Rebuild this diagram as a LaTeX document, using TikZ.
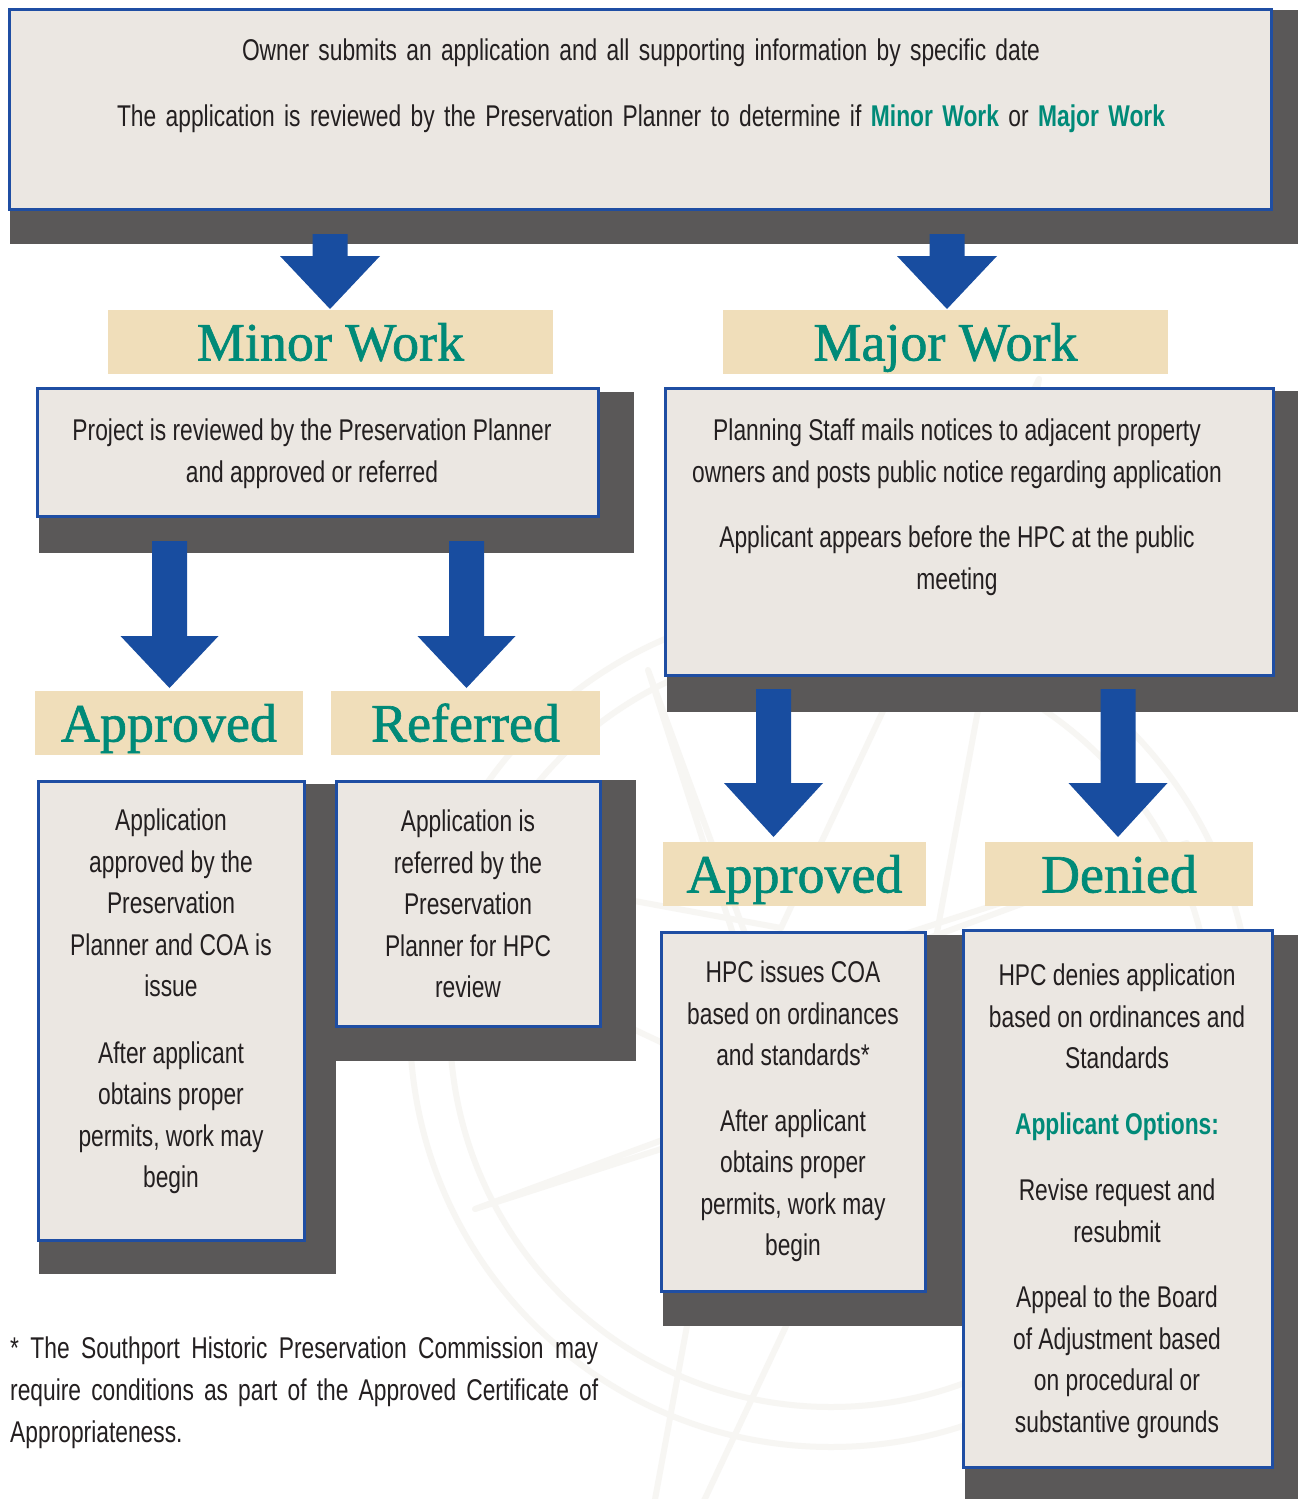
\documentclass[tikz,border=0pt]{standalone}
\usepackage{fontspec}
\setmainfont{Liberation Sans}[FakeStretch=0.76]
\newfontfamily\headfont{Liberation Serif}[FakeBold=1.2]
\definecolor{boxfill}{HTML}{EBE7E2}
\definecolor{shadowc}{HTML}{5A5858}
\definecolor{bordc}{HTML}{1F4EA3}
\definecolor{arrowc}{HTML}{184DA0}
\definecolor{tealc}{HTML}{008A78}
\definecolor{beige}{HTML}{F0DEBA}
\definecolor{wmark}{HTML}{F7F6F3}
\definecolor{textc}{HTML}{231F20}
\newcommand\barrow[5]{% start, tip, shaft length, head half width, head length
  \fill[arrowc] (#1) ++(-17.5,0) -- ++(35,0) -- ++(0,#3) -- ++(#4-17.5,0) -- (#2)
    -- ++(-#4,-#5) -- ++(#4-17.5,0) -- cycle;}
\newcommand\jline[2]{\makebox[#1pt][s]{#2}}
\begin{document}
\begin{tikzpicture}[x=1pt,y=-1pt,
  box/.style={draw=bordc, fill=boxfill, line width=3pt, inner sep=0pt, outer sep=0pt, anchor=north west},
  banner/.style={fill=beige, inner sep=0pt, outer sep=0pt, minimum height=64pt,
    font=\headfont\fontsize{54}{54}\selectfont, text=tealc, text height=37pt, text depth=0pt},
  body/.style={font=\fontsize{30}{41.5}\selectfont, align=center, inner sep=0pt, anchor=north, text=textc}]
\useasboundingbox (0,0) rectangle (1298,1499);
\fill[white] (0,0) rectangle (1298,1499);
% faint compass watermark
\begin{scope}[draw=wmark, line width=6pt, line join=round]
  \draw (831,1026) circle[radius=421];
  \draw (831,1026) circle[radius=381];
  \draw (1039,379) -- (929,976) -- (1478,1234) -- (881,1124) -- (623,1673) -- (733,1076) -- (184,818) -- (781,928) -- cycle;
  \draw (1187,843) -- (855,950) -- (1014,1382) -- (907,1050) -- (475,1209) -- (807,1102) -- (648,670) -- (755,1002) -- cycle;
\end{scope}
% shadows
\fill[shadowc] (10,10) rectangle (1298,244);
\fill[shadowc] (39,392) rectangle (634,553);
\fill[shadowc] (667,391) rectangle (1298,712);
\fill[shadowc] (39,784) rectangle (336,1274);
\fill[shadowc] (335,780) rectangle (636,1061);
\fill[shadowc] (663,935) rectangle (962,1326);
\fill[shadowc] (965,935) rectangle (1298,1499);
% boxes
\node[box, minimum width=1262pt, minimum height=200pt] (topbox) at (9.5,9.5) {};
\node[box, minimum width=561pt, minimum height=128pt] (minorbox) at (37.5,388.5) {};
\node[box, minimum width=608pt, minimum height=287pt] (majorbox) at (665.5,388.5) {};
\node[box, minimum width=266pt, minimum height=459pt] (aprLbox) at (38.5,781.5) {};
\node[box, minimum width=264pt, minimum height=245pt] (refbox) at (336.5,781.5) {};
\node[box, minimum width=264pt, minimum height=359pt] (aprRbox) at (661.5,932.5) {};
\node[box, minimum width=309pt, minimum height=537pt] (denbox) at (963.5,930.5) {};
% banners
\node[banner, minimum width=445pt] (minorban) at (330.5,342) {Minor Work};
\node[banner, minimum width=445pt] (majorban) at (945.5,342) {Major Work};
\node[banner, minimum width=268pt] (aprLban) at (169,723) {Approved};
\node[banner, minimum width=269pt] (refban) at (465.5,723) {Referred};
\node[banner, minimum width=263pt] (aprRban) at (794.5,874) {Approved};
\node[banner, minimum width=268pt] (denban) at (1119,874) {Denied};
% arrows
\coordinate (a1s) at (330,234);  \coordinate (a1t) at (330,309);
\coordinate (a2s) at (947,234);  \coordinate (a2t) at (947,309);
\coordinate (a3s) at (169.5,541); \coordinate (a3t) at (169.5,688);
\coordinate (a4s) at (466.5,541); \coordinate (a4t) at (466.5,688);
\coordinate (a5s) at (773.5,689); \coordinate (a5t) at (773.5,837);
\coordinate (a6s) at (1118,689);  \coordinate (a6t) at (1118,837);
\barrow{a1s}{a1t}{22}{50}{53}
\barrow{a2s}{a2t}{22}{50}{53}
\barrow{a3s}{a3t}{95}{49}{52}
\barrow{a4s}{a4t}{95}{49}{52}
\barrow{a5s}{a5t}{94}{49.5}{54}
\barrow{a6s}{a6t}{94}{49.5}{54}
% texts
\node[body] (t1) at (641,39) {\jline{798}{Owner submits an application and all supporting information by specific date}};
\node[body] (t2) at (641,105) {\jline{1048}{The application is reviewed by the Preservation Planner to determine if {\bfseries\color{tealc}Minor Work} or {\bfseries\color{tealc}Major Work}}};
\node[body] (minortxt) at (312,419) {Project is reviewed by the Preservation Planner\\and approved or referred};
\node[body] (majortxt) at (957,419) {Planning Staff mails notices to adjacent property\\owners and posts public notice regarding application\\[24pt]Applicant appears before the HPC at the public\\meeting};
\node[body] (aprLtxt) at (171,809) {Application\\approved by the\\Preservation\\Planner and COA is\\issue\\[25pt]After applicant\\obtains proper\\permits, work may\\begin};
\node[body] (reftxt) at (468,810) {Application is\\referred by the\\Preservation\\Planner for HPC\\review};
\node[body] (aprRtxt) at (793,961) {HPC issues COA\\based on ordinances\\and standards*\\[24pt]After applicant\\obtains proper\\permits, work may\\begin};
\node[body] (dentxt) at (1117,964) {HPC denies application\\based on ordinances and\\Standards\\[24pt]{\bfseries\color{tealc}Applicant Options:}\\[25pt]Revise request and\\resubmit\\[24pt]Appeal to the Board\\of Adjustment based\\on procedural or\\substantive grounds};
\node[body, anchor=north west, align=left] (foot) at (10,1337) {\jline{588}{* The Southport Historic Preservation Commission may}\\[0.5pt]\jline{588}{require conditions as part of the Approved Certificate of}\\[0.5pt]Appropriateness.};
\end{tikzpicture}
\end{document}
